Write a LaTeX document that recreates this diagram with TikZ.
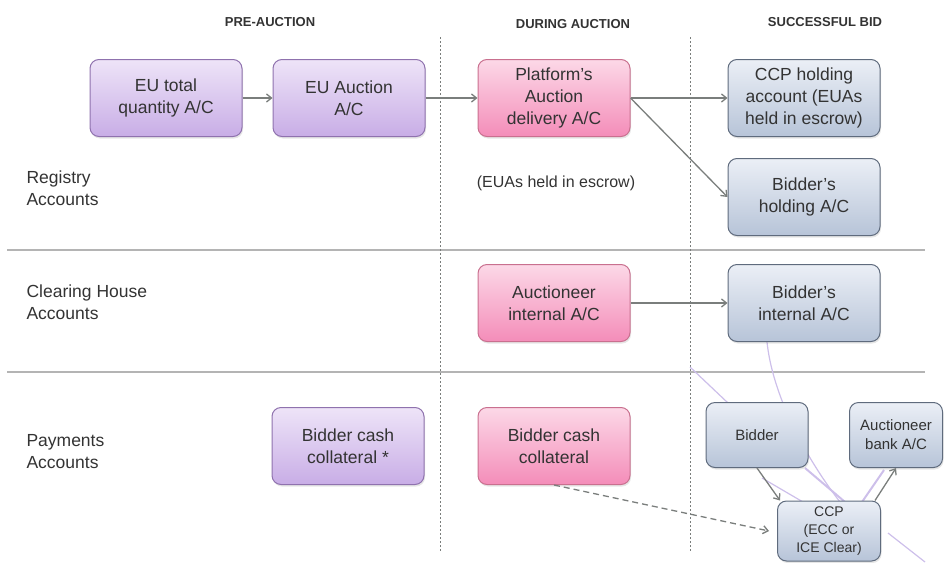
\documentclass[tikz,border=0pt]{standalone}
\usepackage{fontspec}
\setmainfont{Liberation Sans}
\usetikzlibrary{positioning}
\usetikzlibrary{arrows.meta}
\usetikzlibrary{shadows}
\definecolor{purptop}{HTML}{EEE4F8}
\definecolor{purpbot}{HTML}{C8ADE6}
\definecolor{purpedge}{HTML}{8F72AE}
\definecolor{pinktop}{HTML}{FCD8E7}
\definecolor{pinkbot}{HTML}{F48DB9}
\definecolor{pinkedge}{HTML}{C9708F}
\definecolor{bluetop}{HTML}{EBEFF6}
\definecolor{bluebot}{HTML}{B7C4D8}
\definecolor{blueedge}{HTML}{5F6B7D}
\definecolor{flowgray}{HTML}{7A7E7C}
\definecolor{darktext}{HTML}{333333}
\definecolor{rulegray}{HTML}{B4B4B4}
\definecolor{haze}{HTML}{CDBFEA}
\tikzset{
  acct/.style={draw, rounded corners=9pt, line width=1pt, minimum width=152pt,
    minimum height=77pt, inner sep=2pt, align=center, text=darktext,
    font=\fontsize{17.5}{22}\selectfont,
    drop shadow={opacity=0.2, shadow xshift=1pt, shadow yshift=-2pt}},
  preacct/.style={acct, draw=purpedge, top color=purptop, bottom color=purpbot},
  duringacct/.style={acct, draw=pinkedge, top color=pinktop, bottom color=pinkbot},
  bidacct/.style={acct, draw=blueedge, top color=bluetop, bottom color=bluebot},
  smallacct/.style={minimum height=65pt, font=\fontsize{15}{19}\selectfont},
  flow/.style={draw=flowgray, line width=1.3pt, -{Straight Barb[length=5pt,width=8pt]}},
  rowlabel/.style={anchor=west, align=left, text=darktext, font=\fontsize{17.5}{22}\selectfont},
  phase/.style={text=darktext, font=\bfseries\fontsize{13}{15}\selectfont}
}
\begin{document}
\begin{tikzpicture}[x=1pt, y=-1pt, node distance=30pt]
    \useasboundingbox (0,0) rectangle (947,562);
    \draw[rulegray, line width=1.6pt] (7,250) -- (925,250);
    \draw[rulegray, line width=1.6pt] (7,372) -- (925,372);
    \draw[flowgray, line width=0.7pt, dash pattern=on 2pt off 2pt] (440,37) -- (440,552);
    \draw[flowgray, line width=0.7pt, dash pattern=on 2pt off 2pt] (690,37) -- (690,552);
    \draw[haze, line width=1.2pt] (767,342) .. controls (772,390) and (800,450) .. (840,502);
    \draw[haze, line width=1.2pt] (690,367) -- (728,403);
    \draw[haze, line width=2pt] (805,468) -- (845,502);
    \draw[haze, line width=1.2pt] (762,478) -- (803,502);
    \draw[haze, line width=2pt] (862,502) -- (884,470);
    \draw[haze, line width=1.2pt] (888,533) -- (925,562);
    \node[phase] (pre) at (270,22) {PRE-AUCTION};
    \node[phase] (during) at (573,24) {DURING AUCTION};
    \node[phase] (success) at (825,22) {SUCCESSFUL BID};
    \node[rowlabel] (registry) at (23,188) {Registry\\Accounts};
    \node[rowlabel] (clearing) at (23,302) {Clearing House\\Accounts};
    \node[rowlabel] (payments) at (23,452) {Payments\\Accounts};
    \node[preacct] (eutotal) at (166,98) {EU total\\quantity A/C};
    \node[preacct, right=30pt of eutotal] (euauction) {EU Auction\\A/C};
    \node[duringacct] (platform) at (554,98) {Platform's\\Auction\\delivery A/C};
    \node[bidacct] (ccphold) at (804,98) {CCP holding\\account (EUAs\\held in escrow)};
    \node[bidacct, below=21pt of ccphold] (bidhold) {Bidder's\\holding A/C};
    \node[text=darktext, font=\fontsize{16}{19}\selectfont] (escrow) at (556,183) {(EUAs held in escrow)};
    \node[duringacct] (auctint) at (554,303) {Auctioneer\\internal A/C};
    \node[bidacct] (bidint) at (804,303) {Bidder's\\internal A/C};
    \node[preacct] (collat) at (348,446) {Bidder cash\\collateral *};
    \node[duringacct] (collatdur) at (554,446) {Bidder cash\\collateral};
    \node[bidacct, smallacct, minimum width=102pt] (bidder) at (757,435) {Bidder};
    \node[bidacct, smallacct, minimum width=93pt] (aucbank) at (896,435) {Auctioneer\\bank A/C};
    \node[bidacct, smallacct, minimum width=103pt, minimum height=60pt, font=\fontsize{14}{18}\selectfont] (ccp) at (829,531) {CCP\\(ECC or\\ICE Clear)};
    \draw[flow] (eutotal) -- (euauction);
    \draw[flow] (euauction) -- (platform);
    \draw[flow] (platform) -- (ccphold);
    \draw[flow] (platform.east) -- (bidhold.west);
    \draw[flow] (auctint) -- (bidint);
    \draw[flow] (bidder.south) -- ([xshift=3pt]ccp.north west);
    \draw[flow] ([xshift=-6pt]ccp.north east) -- (aucbank.south);
    \draw[flow, dash pattern=on 6pt off 4pt] (collatdur.south) -- ([xshift=-8pt]ccp.west);
\end{tikzpicture}
\end{document}
